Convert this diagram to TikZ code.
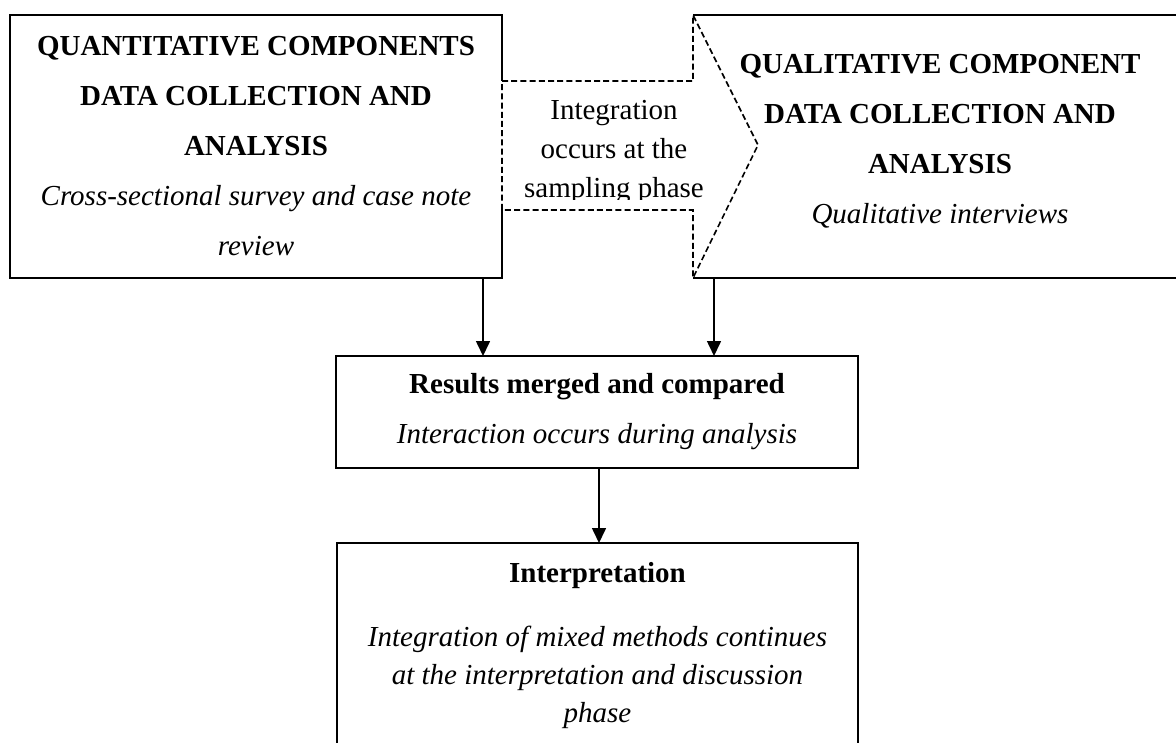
\documentclass[tikz,border=0pt]{standalone}
\usepackage{fontspec}
\setmainfont{Liberation Serif}
\usetikzlibrary{arrows.meta,fit}
% fixed-height strut so the first baseline sits 10pt below a node's top
\newcommand{\topstrut}{\rule{0pt}{10pt}}

\begin{document}
\begin{tikzpicture}[x=0.5pt,y=-0.5pt,
  boxline/.style={line width=1.2pt},
  dashline/.style={line width=0.8pt, dash pattern=on 3pt off 1.6pt, line join=miter},
  arr/.style={line width=0.8pt, -{Triangle[length=7.5pt,width=7pt]}},
  frame/.style={inner sep=0pt, outer sep=0pt},
  txt/.style={inner sep=0pt, align=center, anchor=north},
  wide/.style={font=\fontsize{14.5}{25}\selectfont},
  tight/.style={font=\fontsize{14.5}{19.5}\selectfont}]

\useasboundingbox (0,0) rectangle (1176,743);
\clip (0,0) rectangle (1176,743);

% box frames
\node[frame, fit={(10,15) (502,278)}] (quant) {};
\node[frame, fit={(693,15) (1200,278)}] (qual) {};
\node[frame, draw, boxline, fit={(336,356) (858,468)}] (res) {};
\node[frame, draw, boxline, fit={(337,543) (858,790)}] (interp) {};

% points where the dashed arrow meets the boxes
\coordinate (jt) at (502,81);
\coordinate (jb) at (502,210);
\coordinate (tip) at (758,145);

% quantitative box: solid except where the arrow joins it
\draw[boxline] (jt) -- (quant.north east) -- (quant.north west)
  -- (quant.south west) -- (quant.south east) -- (jb);
% qualitative box: open on its left, which the arrow closes
\draw[boxline] (qual.north west) -- (qual.north east);
\draw[boxline] (qual.south west) -- (qual.south east);

% dashed integration arrow
\draw[dashline] (jt) -- (jt -| qual.west) -- (qual.north west) -- (tip)
  -- (qual.south west) -- (jb -| qual.west) -- (jb) -- cycle;

% texts
\node[txt, wide] (quanttext) at (256,35) {%
  \topstrut\textbf{QUANTITATIVE COMPONENTS}\\
  \textbf{DATA COLLECTION AND}\\
  \textbf{ANALYSIS}\\
  \textit{Cross-sectional survey and case note}\\
  \textit{review}};

\begin{scope}
  % the label's text box cuts off the descenders of its last line
  \clip (jt) rectangle (760,200);
  \node[txt, tight] (midtext) at (614,99) {%
    \topstrut Integration\\
    occurs at the\\
    sampling phase};
\end{scope}

\node[txt, wide] (qualtext) at (940,53) {%
  \topstrut\textbf{QUALITATIVE COMPONENT}\\
  \textbf{DATA COLLECTION AND}\\
  \textbf{ANALYSIS}\\
  \textit{Qualitative interviews}};

\node[txt, wide] (restext) at (597,373) {%
  \topstrut\textbf{Results merged and compared}\\
  \textit{Interaction occurs during analysis}};

\node[txt, font=\fontsize{14.5}{19}\selectfont] (interptext) at (597.5,562) {%
  \topstrut\textbf{Interpretation}\\[13pt]
  \textit{Integration of mixed methods continues}\\
  \textit{at the interpretation and discussion}\\
  \textit{phase}};

% connectors
\coordinate (la) at (483,0);
\coordinate (ra) at (714,0);
\coordinate (ma) at (599,0);
\draw[arr] (quant.south -| la) -- (res.north -| la);
\draw[arr] (qual.south -| ra) -- (res.north -| ra);
\draw[arr] (res.south -| ma) -- (interp.north -| ma);

\end{tikzpicture}
\end{document}
